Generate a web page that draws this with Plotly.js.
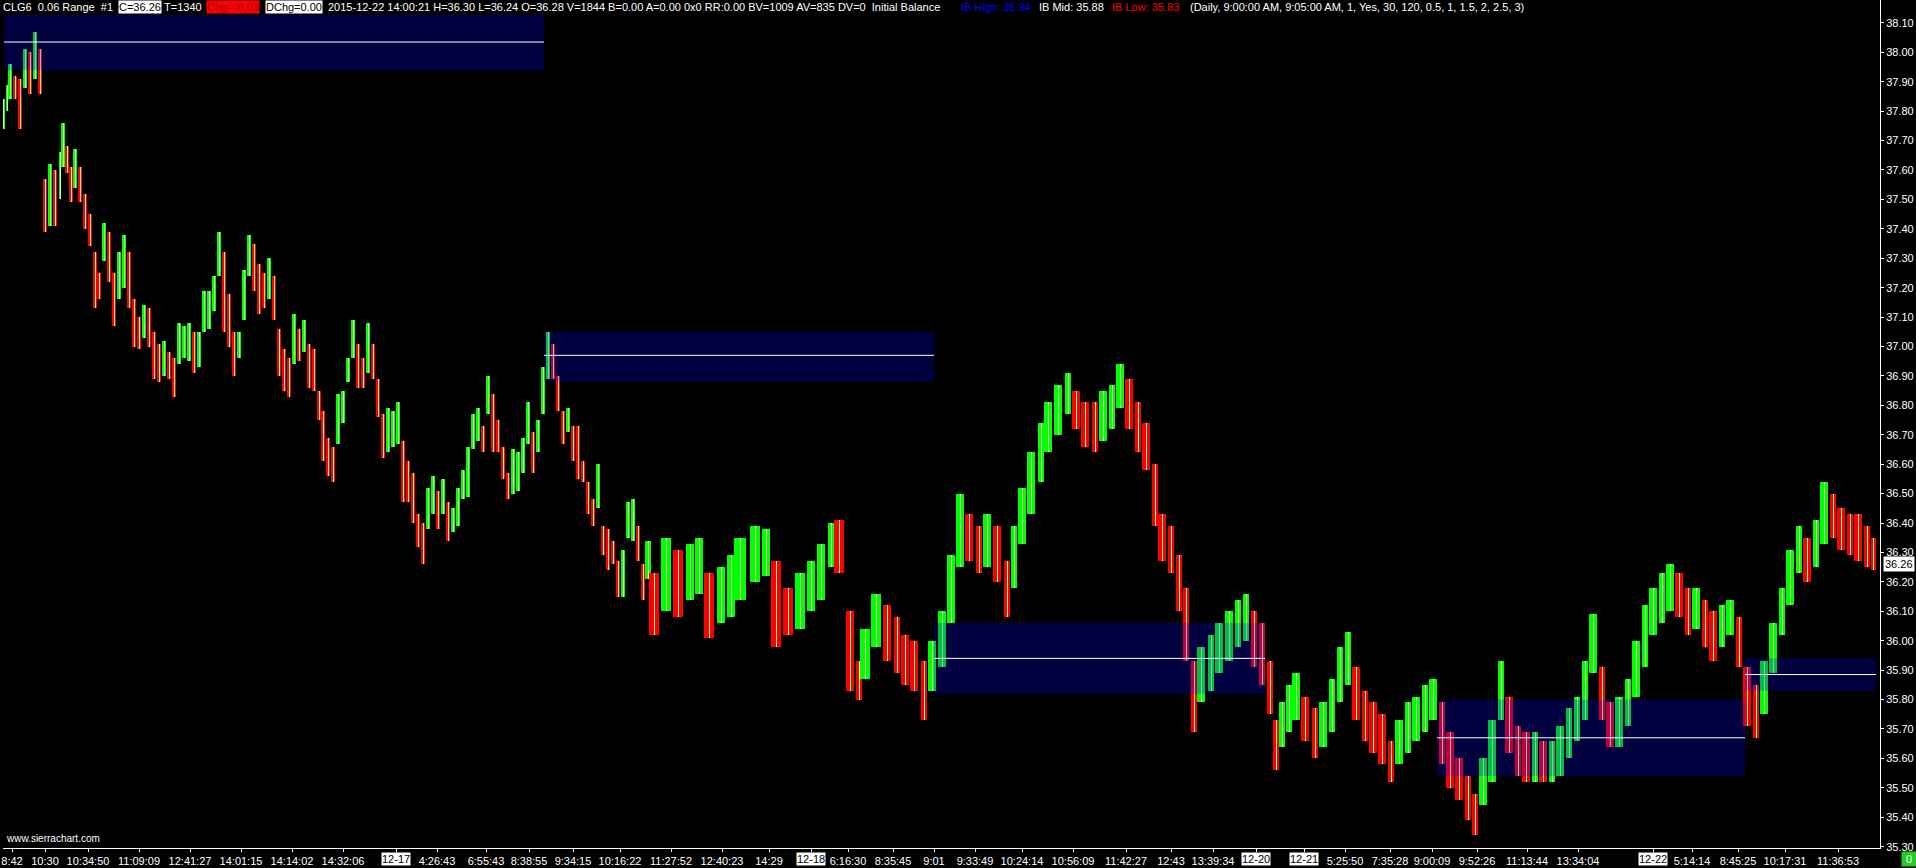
<!DOCTYPE html>
<html><head><meta charset="utf-8">
<script src="https://cdn.plot.ly/plotly-3.0.1.min.js"></script>
<style>html,body{margin:0;padding:0;background:#000;overflow:hidden}#chart{width:1916px;height:868px}</style>
</head><body><div id="chart"></div>
<script>
// bar position (bar number along the x axis), high and low prices
const barPos = [0,4,7,12,17,22,27,32,37,42,47,52,57,60,64,68,72,77,82,87,92,96,101,106,111,116,121,126,131,136,141,146,151,156,161,166,171,176,181,186,191,196,201,206,211,216,221,226,231,236,241,246,251,256,261,266,271,276,281,286,291,296,301,306,311,316,320,325,330,335,340,345,350,355,360,365,370,375,380,385,390,395,400,405,410,415,420,425,430,435,440,445,450,455,460,465,470,475,480,485,490,495,500,505,510,515,520,525,530,535,540,545,550,555,560,565,570,575,580,585,590,595,600,605,610,615,620,625,630,635,640,645,
651,663,675,687,696,706,718,728,737,752,763,773,785,797,808,818,828,836,
847,856,862,873,884,894,902,911,921,929,939,948,957,
966,976,984,994,1004,1011,
1019,1028,1038,1045,1055,1065,1073,1082,1092,1100,1109,1117,1126,1135,1143,
1152,1159,1168,1176,1183,1191,1198,1208,1216,1226,1235,1243,1251,1259,1267,1273,
1279,1286,1293,1302,1312,1320,1329,1337,1345,1353,1362,1370,1379,1388,1396,1405,1413,1422,1430,1439,
1447,1456,1465,1472,1480,1489,1498,1506,1515,1523,1532,1540,1549,1557,1566,1574,
1582,1590,1599,1607,1616,1625,1633,1642,1650,1659,1667,1676,1685,1693,1702,1710,1719,1727,1736,1744,1753,
1761,1770,1779,1787,1796,1804,1813,1821,1830,1838,1847,1855,1864,1870];
const barHigh = [37.84,37.89,37.96,37.92,37.91,38.01,38.00,38.07,38.01,37.57,37.62,37.60,37.66,37.76,37.68,37.61,37.67,37.61,37.52,37.45,37.32,37.25,37.42,37.39,37.25,37.32,37.38,37.32,37.16,37.10,37.14,37.13,37.05,37.01,37.02,36.98,36.96,37.08,37.07,37.08,37.05,37.05,37.19,37.19,37.24,37.39,37.32,37.18,37.05,37.05,37.26,37.38,37.35,37.28,37.25,37.30,37.24,37.06,36.99,36.96,37.11,37.06,37.09,37.01,36.99,36.85,36.78,36.69,36.66,36.84,36.85,36.96,37.09,37.01,36.96,37.08,37.01,36.89,36.77,36.79,36.78,36.81,36.68,36.61,36.57,36.43,36.40,36.52,36.56,36.51,36.55,36.47,36.45,36.52,36.58,36.66,36.77,36.79,36.73,36.90,36.84,36.75,36.66,36.57,36.65,36.64,36.69,36.81,36.71,36.75,36.93,37.05,37.01,36.90,36.78,36.79,36.73,36.73,36.61,36.54,36.48,36.60,36.39,36.38,36.34,36.27,36.31,36.47,36.48,36.39,36.26,36.34,
36.23,36.35,36.31,36.33,36.35,36.23,36.25,36.29,36.35,36.39,36.38,36.27,36.18,36.23,36.27,36.33,36.40,36.41,
36.10,35.93,36.04,36.16,36.12,36.08,36.02,36.00,35.93,36.00,36.10,36.29,36.50,
36.43,36.39,36.43,36.39,36.27,36.39,
36.52,36.64,36.74,36.81,36.87,36.91,36.85,36.81,36.81,36.85,36.87,36.94,36.89,36.81,36.74,
36.60,36.43,36.39,36.29,36.18,35.93,35.98,36.02,36.06,36.10,36.14,36.16,36.10,36.06,35.93,35.73,
35.79,35.85,35.89,35.81,35.77,35.79,35.87,35.98,36.03,35.91,35.83,35.79,35.75,35.66,35.73,35.79,35.81,35.85,35.87,35.79,
35.69,35.60,35.54,35.48,35.60,35.73,35.93,35.81,35.71,35.69,35.69,35.66,35.66,35.71,35.77,35.81,
35.93,36.09,35.91,35.79,35.81,35.87,36.00,36.12,36.18,36.23,36.26,36.23,36.18,36.18,36.14,36.10,36.12,36.14,36.08,35.91,35.85,
35.93,36.06,36.18,36.31,36.39,36.35,36.41,36.54,36.50,36.45,36.43,36.43,36.39,36.35];
const barLow = [37.74,37.80,37.84,37.84,37.74,37.88,37.86,37.91,37.86,37.39,37.41,37.41,37.50,37.61,37.59,37.49,37.54,37.49,37.40,37.34,37.13,37.16,37.29,37.22,37.07,37.16,37.20,37.13,37.00,36.99,37.03,37.00,36.89,36.88,36.90,36.89,36.83,36.94,36.96,36.95,36.91,36.93,37.05,37.06,37.12,37.24,37.05,37.00,36.90,36.96,37.09,37.24,37.19,37.11,37.13,37.16,37.09,36.90,36.85,36.83,36.94,36.95,36.98,36.86,36.85,36.75,36.61,36.56,36.54,36.67,36.74,36.88,36.96,36.86,36.86,36.91,36.89,36.76,36.62,36.64,36.66,36.67,36.47,36.47,36.40,36.32,36.26,36.38,36.43,36.38,36.43,36.34,36.37,36.39,36.48,36.49,36.65,36.68,36.64,36.77,36.64,36.64,36.55,36.48,36.50,36.51,36.57,36.67,36.57,36.64,36.77,36.89,36.89,36.78,36.67,36.71,36.61,36.55,36.54,36.43,36.39,36.45,36.29,36.24,36.26,36.15,36.15,36.35,36.34,36.27,36.14,36.21,
36.02,36.10,36.08,36.14,36.16,36.01,36.06,36.08,36.14,36.20,36.22,35.98,36.02,36.04,36.10,36.14,36.25,36.23,
35.83,35.80,35.87,35.98,35.93,35.89,35.85,35.83,35.73,35.83,35.91,36.06,36.25,
36.27,36.23,36.25,36.20,36.08,36.18,
36.33,36.43,36.54,36.64,36.70,36.77,36.72,36.66,36.64,36.68,36.72,36.79,36.72,36.64,36.58,
36.39,36.27,36.23,36.10,35.93,35.69,35.79,35.83,35.89,35.93,35.98,36.00,35.91,35.85,35.75,35.56,
35.64,35.69,35.73,35.66,35.60,35.64,35.69,35.79,35.85,35.73,35.66,35.62,35.58,35.52,35.58,35.62,35.66,35.69,35.73,35.58,
35.50,35.46,35.39,35.34,35.44,35.52,35.73,35.62,35.54,35.52,35.52,35.52,35.52,35.54,35.60,35.66,
35.73,35.89,35.73,35.64,35.64,35.71,35.81,35.91,36.02,36.06,36.10,36.08,36.02,36.04,35.98,35.93,35.98,36.02,35.91,35.71,35.67,
35.75,35.89,36.02,36.12,36.23,36.20,36.25,36.33,36.35,36.31,36.29,36.27,36.25,36.24];

// time-axis labels
const tickPos  = [9,42,85,136,187,238,289,340,393,434,483,526,570,617,668,719,766,808,845,890,931,972,1019,1070,1123,1168,1210,1253,1301,1342,1387,1429,1474,1524,1575,1650,1689,1735,1782,1835];
const tickText = ['8:42','10:30','10:34:50','11:09:09','12:41:27','14:01:15','14:14:02','14:32:06','12-17','4:26:43','6:55:43','8:38:55','9:34:15','10:16:22','11:27:52','12:40:23','14:29','12-18','6:16:30','8:35:45','9:01','9:33:49','10:24:14','10:56:09','11:42:27','12:43','13:39:34','12-20','12-21','5:25:50','7:35:28','9:00:09','9:52:26','11:13:44','13:34:04','12-22','5:14:14','8:45:25','10:17:31','11:36:53'];
const dateLabels = ['12-17','12-18','12-20','12-21','12-22'];

// initial balance ranges per session
const ibStart = [1,541,931,1434,1742];
const ibEnd   = [541,931,1262,1742,1873];
const ibHigh  = [38.13,37.05,36.06,35.80,35.94];
const ibMid   = [38.035,36.97,35.94,35.67,35.885];
const ibLow   = [37.94,36.88,35.82,35.54,35.83];

const lastPrice = 36.26;

const ML=3, MR=36, MT=0, MB=20, W=1916, H=868;
const PW=W-ML-MR, PH=H-MT-MB;
const px = X => (X-ML)/PW;
const py = Y => 1-(Y-MT)/PH;
const FONT = 'Liberation Sans, Arial, sans-serif';

const mids = barHigh.map((h,i)=>(h+barLow[i])/2);
const dirColor = mids.map((m,i)=> i===0 || m>=mids[i-1] ? '#00ff00' : '#ff0000');
const widths = barPos.map((p,i)=> i<barPos.length-1 ? (barPos[i+1]-p)*0.85 : 5);

const traces = [
  {type:'bar', x:barPos, base:barLow, y:barHigh.map((h,i)=>h-barLow[i]), width:widths,
   marker:{color:dirColor, line:{width:0}}, hoverinfo:'skip', showlegend:false},
  {type:'bar', x:barPos, base:barLow, y:barHigh.map((h,i)=>h-barLow[i]), width:1,
   marker:{color:'#ccff99', line:{width:0}}, hoverinfo:'skip', showlegend:false}
];

const shapes = [];
for (let i=0;i<ibStart.length;i++){
  shapes.push({type:'rect', xref:'x', yref:'y', x0:ibStart[i], x1:ibEnd[i], y0:ibLow[i], y1:ibHigh[i],
    fillcolor:'rgba(0,0,255,0.25)', line:{width:0}, layer:'above'});
  shapes.push({type:'line', xref:'x', yref:'y', x0:ibStart[i], x1:ibEnd[i], y0:ibMid[i], y1:ibMid[i],
    line:{color:'#ffffff', width:1}, layer:'above'});
}
shapes.push({type:'rect', xref:'paper', yref:'paper', x0:0, x1:1, y0:py(15), y1:1,
  fillcolor:'#000000', line:{width:0}, layer:'above'});

const annotations = [];
function hdr(X, text, color, bg){
  annotations.push({xref:'paper', yref:'paper', x:px(X), y:1, xanchor:'left', yanchor:'top',
    text:text, showarrow:false, font:{family:FONT, size:11, color:color},
    bgcolor:bg||'rgba(0,0,0,0)', borderpad:0});
}
hdr(2,'CLG6&nbsp;&nbsp;0.06 Range&nbsp;&nbsp;#1','#ffffff');
hdr(118,'C=36.26','#000000','#ffffff');
hdr(163,'T=1340','#ffffff');
hdr(206,'Chg=-0.03','#a00000','#ff0000');
hdr(265,'DChg=0.00','#000000','#ffffff');
hdr(327,'2015-12-22 14:00:21 H=36.30 L=36.24 O=36.28 V=1844 B=0.00 A=0.00 0x0 RR:0.00 BV=1009 AV=835 DV=0&nbsp;&nbsp;Initial Balance','#ffffff');
hdr(960,'IB High: 35.94','#0000ff');
hdr(1038,'IB Mid: 35.88','#ffffff');
hdr(1111,'IB Low: 35.83','#ff0000');
hdr(1189,'(Daily, 9:00:00 AM, 9:05:00 AM, 1, Yes, 30, 120, 0.5, 1, 1.5, 2, 2.5, 3)','#ffffff');

tickPos.forEach((p,i)=>{
  if (dateLabels.includes(tickText[i])) {
    annotations.push({xref:'x', yref:'paper', x:p, y:0, yanchor:'top', yshift:-4, text:tickText[i],
      showarrow:false, bgcolor:'#ffffff', borderpad:0, font:{family:FONT, size:11, color:'#000000'}});
  }
});
annotations.push({xref:'paper', yref:'y', x:px(1883), y:lastPrice, xanchor:'left', yanchor:'middle',
  text:lastPrice.toFixed(2), showarrow:false, bgcolor:'#ffffff', borderpad:1,
  font:{family:FONT, size:11, color:'#000000'}});
annotations.push({xref:'paper', yref:'paper', x:px(1901), y:0, xanchor:'left', yanchor:'top', yshift:-3,
  text:'&nbsp;0&nbsp;', showarrow:false, bgcolor:'#22cc22', borderpad:1, font:{family:FONT, size:11, color:'#ffffff'}});
annotations.push({xref:'paper', yref:'paper', x:px(4), y:0, xanchor:'left', yanchor:'bottom', yshift:2,
  text:'www.sierrachart.com', showarrow:false, font:{family:FONT, size:10, color:'#ffffff'}});

const layout = {
  width:W, height:H, margin:{l:ML, r:MR, t:MT, b:MB, pad:0},
  paper_bgcolor:'#000000', plot_bgcolor:'#000000',
  barmode:'overlay', bargap:0, showlegend:false,
  xaxis:{range:[0,PW], type:'linear', tickmode:'array', tickvals:tickPos,
    ticktext:tickText.map(t=>dateLabels.includes(t)?'':t), ticklabeloverflow:'allow',
    showgrid:false, zeroline:false, showline:true, linecolor:'#ffffff', linewidth:1,
    ticks:'outside', ticklen:3, tickcolor:'#ffffff', tickfont:{family:FONT, size:11, color:'#ffffff'},
    fixedrange:true},
  yaxis:{range:[35.2954,38.1778], side:'right', tick0:35.3, dtick:0.1, tickformat:'.2f',
    showgrid:false, zeroline:false, showline:true, linecolor:'#ffffff', linewidth:1,
    ticks:'outside', ticklen:3, tickcolor:'#ffffff', tickfont:{family:FONT, size:11, color:'#ffffff'},
    fixedrange:true},
  shapes:shapes, annotations:annotations
};
Plotly.newPlot('chart', traces, layout, {displayModeBar:false, staticPlot:true});
</script>
</body></html>
